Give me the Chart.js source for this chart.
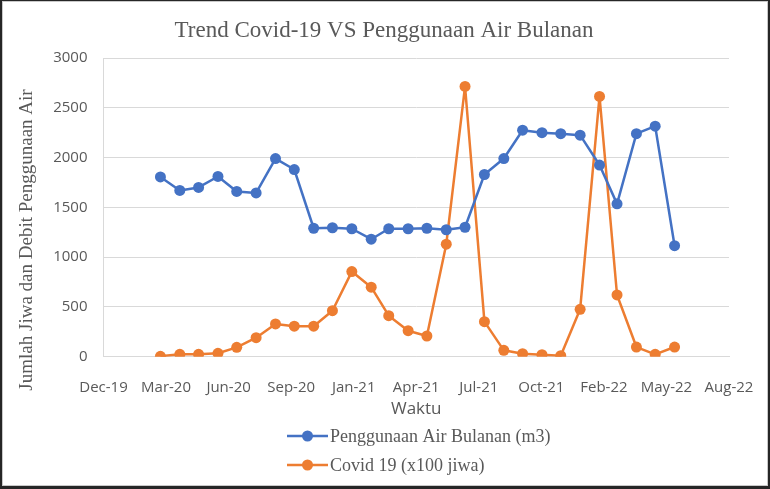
<!DOCTYPE html>
<html>
<head>
<meta charset="utf-8">
<script src="https://cdn.jsdelivr.net/npm/chart.js@4.4.0/dist/chart.umd.min.js"></script>
<style>
  html, body { margin: 0; padding: 0; background: #262626; }
  #frame { position: absolute; left: 2px; top: 1px; width: 764px; height: 483px; background: #fff; border: 1px solid #c9c9c9; }
  #wrap { position: absolute; left: 0; top: 0; width: 770px; height: 489px; }
</style>
</head>
<body>
<div id="frame"></div>
<div id="wrap"><canvas id="chart"></canvas></div>
<script>
const months = [
  "2020-03", "2020-04", "2020-05", "2020-06", "2020-07", "2020-08", "2020-09",
  "2020-10", "2020-11", "2020-12", "2021-01", "2021-02", "2021-03", "2021-04",
  "2021-05", "2021-06", "2021-07", "2021-08", "2021-09", "2021-10", "2021-11",
  "2021-12", "2022-01", "2022-02", "2022-03", "2022-04", "2022-05", "2022-06"
];
const airBulanan = [
  1805, 1670, 1700, 1810, 1660, 1645, 1990,
  1880, 1290, 1295, 1285, 1180, 1285, 1285,
  1290, 1275, 1300, 1830, 1990, 2275, 2250,
  2240, 2225, 1925, 1535, 2240, 2315, 1115
];
const covid = [
  4, 24, 24, 34, 94, 191, 329,
  306, 306, 462, 855, 698, 412, 261,
  208, 1130, 2715, 352, 64, 30, 20,
  10, 476, 2614, 620, 97, 24, 97
];
const tickLabels = [
  "Dec-19", "Mar-20", "Jun-20", "Sep-20", "Jan-21", "Apr-21",
  "Jul-21", "Oct-21", "Feb-22", "May-22", "Aug-22"
];
const seriesNames = ["Penggunaan Air Bulanan (m3)", "Covid 19 (x100 jiwa)"];
const chartTitle = "Trend Covid-19 VS Penggunaan Air Bulanan";
const xTitle = "Waktu";
const yTitle = "Jumlah Jiwa dan Debit Penggunaan Air";

// date axis: days counted from 1 Dec 2019, a tick every 100 days
const axisStart = Date.UTC(2019, 11, 1);
const dayStep = 100;

function toDay(m) {
  const [y, mo] = m.split("-").map(Number);
  return (Date.UTC(y, mo - 1, 1) - axisStart) / 86400000;
}

const blue = "#4472C4";
const orange = "#ED7D31";
const gray = "#595959";
const grid = "#d9d9d9";

function points(values) {
  return values.map((v, i) => ({ x: toDay(months[i]), y: v }));
}

const textPlugin = {
  id: "texts",
  afterDraw(chart) {
    const ctx = chart.ctx;
    const area = chart.chartArea;
    ctx.save();
    ctx.fillStyle = gray;
    ctx.textAlign = "center";
    ctx.textBaseline = "middle";
    ctx.font = '23px "Liberation Serif"';
    ctx.fillText(chartTitle, 384, 31);
    ctx.font = '17px "Open Sans"';
    ctx.fillText(xTitle, (area.left + area.right) / 2, 409);

    ctx.save();
    ctx.translate(27, 240);
    ctx.rotate(-Math.PI / 2);
    ctx.font = '19px "Liberation Serif"';
    ctx.fillText(yTitle, 0, 0);
    ctx.restore();

    // legend, one item per row
    ctx.textAlign = "left";
    ctx.font = '18px "Liberation Serif"';
    chart.data.datasets.forEach((ds, i) => {
      const y = 436 + i * 29;
      ctx.strokeStyle = ds.borderColor;
      ctx.lineWidth = 2.5;
      ctx.beginPath();
      ctx.moveTo(287, y);
      ctx.lineTo(328, y);
      ctx.stroke();
      ctx.fillStyle = ds.borderColor;
      ctx.beginPath();
      ctx.arc(307.5, y, 5.5, 0, Math.PI * 2);
      ctx.fill();
      ctx.fillStyle = gray;
      ctx.fillText(ds.label, 330, y + 1);
    });
    ctx.restore();
  }
};

function series(label, values, color) {
  return {
    label: label,
    data: points(values),
    borderColor: color,
    backgroundColor: color,
    borderWidth: 2.5,
    borderJoinStyle: "round",
    pointRadius: 5.5,
    pointBorderWidth: 0,
    pointBackgroundColor: color,
    tension: 0
  };
}

new Chart(document.getElementById("chart"), {
  type: "line",
  data: {
    datasets: [
      series(seriesNames[0], airBulanan, blue),
      series(seriesNames[1], covid, orange)
    ]
  },
  options: {
    responsive: true,
    maintainAspectRatio: false,
    animation: false,
    layout: { padding: { top: 58, left: 43.5, right: 41, bottom: 92.3 } },
    plugins: {
      legend: { display: false },
      title: { display: false },
      tooltip: { enabled: false }
    },
    scales: {
      x: {
        type: "linear",
        min: 0,
        max: dayStep * (tickLabels.length - 1),
        afterFit: (scale) => { scale.height = 40; },
        ticks: {
          stepSize: dayStep,
          autoSkip: false,
          maxRotation: 0,
          padding: 14,
          color: gray,
          font: { family: "Open Sans", size: 15 },
          callback: (v) => tickLabels[Math.round(v / dayStep)]
        },
        grid: { display: false },
        border: { display: true, color: grid, width: 1 }
      },
      y: {
        min: 0,
        max: 3000,
        afterFit: (scale) => { scale.width = 60; },
        ticks: {
          stepSize: 500,
          padding: 16,
          color: gray,
          font: { family: "Open Sans", size: 15 },
          callback: (v) => String(v)
        },
        grid: { color: grid, drawTicks: false },
        border: { display: true, color: grid, width: 1 }
      }
    }
  },
  plugins: [textPlugin]
});
</script>
</body>
</html>
